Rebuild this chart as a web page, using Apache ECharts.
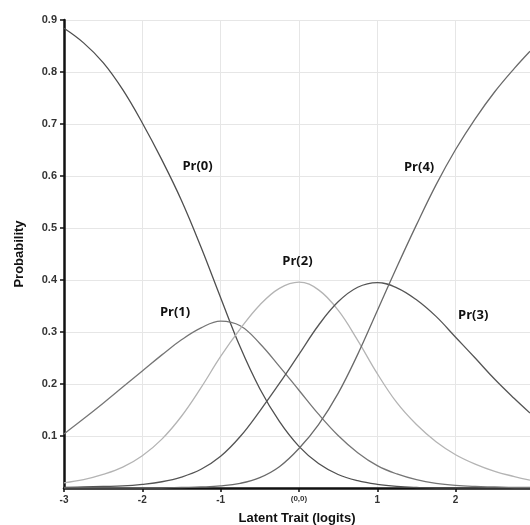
<!DOCTYPE html>
<html>
<head>
<meta charset="utf-8">
<script src="https://cdn.jsdelivr.net/npm/echarts@6/dist/echarts.min.js"></script>
<style>html,body{margin:0;padding:0;background:#fff;}#c{width:530px;height:525px;}</style>
</head>
<body>
<div id="c"></div>
<script>
// Latent trait (logits) sample points
var theta = [-3, -2.75, -2.5, -2.25, -2, -1.75, -1.5, -1.25, -1, -0.75, -0.5, -0.25, 0, 0.25, 0.5, 0.75, 1, 1.25, 1.5, 1.75, 2, 2.25, 2.5, 2.75, 2.95];
// Category probabilities
var pr0 = [0.884, 0.856, 0.818, 0.766, 0.702, 0.631, 0.553, 0.463, 0.366, 0.271, 0.191, 0.128, 0.080, 0.047, 0.026, 0.014, 0.007, 0.003, 0.001, 0, 0, 0, 0, 0, 0];
var pr1 = [0.104, 0.133, 0.163, 0.194, 0.225, 0.256, 0.285, 0.308, 0.321, 0.312, 0.278, 0.234, 0.188, 0.142, 0.101, 0.068, 0.043, 0.027, 0.016, 0.009, 0.005, 0.003, 0.002, 0.001, 0.001];
var pr2 = [0.010, 0.016, 0.026, 0.040, 0.062, 0.094, 0.138, 0.193, 0.253, 0.306, 0.352, 0.384, 0.396, 0.381, 0.342, 0.284, 0.220, 0.164, 0.122, 0.089, 0.064, 0.046, 0.032, 0.022, 0.015];
var pr3 = [0.001, 0.002, 0.003, 0.004, 0.007, 0.012, 0.021, 0.036, 0.061, 0.099, 0.148, 0.201, 0.257, 0.313, 0.358, 0.386, 0.395, 0.385, 0.362, 0.330, 0.290, 0.250, 0.209, 0.172, 0.144];
var pr4 = [0, 0, 0, 0, 0, 0, 0.001, 0.002, 0.004, 0.009, 0.020, 0.041, 0.076, 0.122, 0.182, 0.257, 0.341, 0.425, 0.506, 0.583, 0.651, 0.710, 0.762, 0.807, 0.840];
var seriesNames = ['Pr(0)', 'Pr(1)', 'Pr(2)', 'Pr(3)', 'Pr(4)'];
var xTicks = [-3, -2, -1, 0, 1, 2];
var yTicks = [0.1, 0.2, 0.3, 0.4, 0.5, 0.6, 0.7, 0.8, 0.9];

var allData = [pr0, pr1, pr2, pr3, pr4];
var colors = ['#4f4f4f', '#767676', '#b4b4b4', '#555555', '#6a6a6a'];
var labelPos = [[-1.295, 0.618], [-1.582, 0.338], [-0.02, 0.4365], [2.224, 0.333], [1.534, 0.617]];

function pairs(ys) { return theta.map(function (t, i) { return [t, ys[i]]; }); }

var series = allData.map(function (ys, k) {
  return {
    name: seriesNames[k],
    type: 'line',
    data: pairs(ys),
    smooth: 0.4,
    showSymbol: false,
    symbol: 'none',
    lineStyle: { color: colors[k], width: 1.3 },
    z: 3,
    markPoint: {
      symbol: 'circle', symbolSize: 0,
      label: { show: true, formatter: seriesNames[k], color: '#111', fontWeight: 'bold', fontSize: 13, fontFamily: 'Open Sans, Liberation Sans, sans-serif', position: 'inside' },
      data: [{ coord: labelPos[k] }]
    }
  };
});

var chart = echarts.init(document.getElementById('c'), null, { renderer: 'canvas' });
chart.setOption({
  animation: false,
  backgroundColor: '#fff',
  grid: { left: 64, right: 0, top: 20, bottom: 37, containLabel: false, outerBoundsMode: 'none' },
  xAxis: {
    type: 'value', min: -3, max: 2.95, interval: 1,
    name: 'Latent Trait (logits)', nameLocation: 'middle', nameGap: 24,
    nameTextStyle: { fontWeight: 'bold', fontSize: 13, color: '#111', fontFamily: 'Liberation Sans, Arial, sans-serif' },
    axisLine: { show: true, onZero: false, lineStyle: { color: '#111', width: 2.5 } },
    axisTick: { show: true, length: 4, lineStyle: { color: '#111', width: 1.5 } },
    splitLine: { show: true, lineStyle: { color: '#e6e6e6', width: 1 } },
    axisLabel: {
      showMaxLabel: false, margin: 7,
      color: '#333', fontWeight: 'bold', fontSize: 10, fontFamily: 'Liberation Sans, Arial, sans-serif',
      formatter: function (v) {
        if (xTicks.indexOf(v) < 0) return '';
        if (v === 0) return '{s|(0,0)}';
        return String(v);
      },
      rich: { s: { fontSize: 8, fontWeight: 'bold', color: '#333', fontFamily: 'Liberation Sans, Arial, sans-serif' } }
    }
  },
  yAxis: {
    type: 'value', min: 0, max: 0.9, interval: 0.1,
    name: 'Probability', nameLocation: 'middle', nameGap: 38, nameRotate: 90,
    nameTextStyle: { fontWeight: 'bold', fontSize: 13, color: '#111', fontFamily: 'Liberation Sans, Arial, sans-serif' },
    axisLine: { show: true, onZero: false, lineStyle: { color: '#111', width: 2.5 } },
    axisTick: { show: true, length: 4, lineStyle: { color: '#111', width: 1.5 } },
    splitLine: { show: true, lineStyle: { color: '#e6e6e6', width: 1 } },
    axisLabel: {
      showMinLabel: false, margin: 7,
      color: '#333', fontWeight: 'bold', fontSize: 11, fontFamily: 'Liberation Sans, Arial, sans-serif',
      formatter: function (v) {
        var r = Math.round(v * 10) / 10;
        return yTicks.indexOf(r) >= 0 ? r.toFixed(1) : '';
      }
    }
  },
  series: series
});
</script>
</body>
</html>
